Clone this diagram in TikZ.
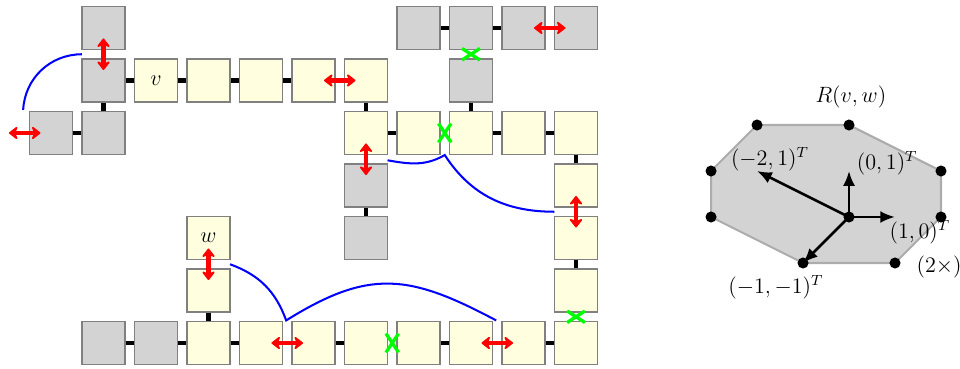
\documentclass[tikz,border=0pt]{standalone}
\usetikzlibrary{arrows.meta}
\definecolor{cellgray}{RGB}{211,211,211}
\definecolor{celly}{RGB}{255,255,224}
\begin{document}
\begin{tikzpicture}[
        cell/.style = {draw = gray, line width = 0.9pt, minimum size = 0.82cm, inner sep = 0pt, font = \large},
        graycell/.style = {cell, fill = cellgray},
        yellowcell/.style = {cell, fill = celly},
        link/.style = {line width = 2.2pt},
        flip/.style = {red, line width = 2.2pt, {Stealth[round, length = 5.5pt, width = 8.5pt]}-{Stealth[round, length = 5.5pt, width = 8.5pt]}},
        cut/.style = {green, line width = 1.8pt},
        route/.style = {blue, line width = 1.1pt},
        dot/.style = {circle, fill = black, inner sep = 0pt, minimum size = 6pt},
        vec/.style = {line width = 1.4pt, -{Latex[length = 8pt, width = 6.5pt]}}
    ]
    \useasboundingbox (-0.971, -6.495) rectangle (17.314, 0.533);

    % cells
    \foreach \i/\j in {1/0, 7/0, 8/0, 9/0, 10/0, 1/1, 8/1, 0/2, 1/2, 6/3, 6/4, 1/6, 2/6}
        \node [graycell] (c\i-\j) at (\i, -\j) {};
    \foreach \i/\j in {3/1, 4/1, 5/1, 6/1, 6/2, 7/2, 8/2, 9/2, 10/2, 10/3, 10/4, 3/5, 10/5,
                       3/6, 4/6, 5/6, 6/6, 7/6, 8/6, 9/6, 10/6}
        \node [yellowcell] (c\i-\j) at (\i, -\j) {};
    \node [yellowcell] (c2-1) at (2, -1) {$v$};
    \node [yellowcell] (c3-4) at (3, -4) {$w$};

    % links
    \foreach \a/\b in {c7-0/c8-0, c8-0/c9-0,
                       c1-0/c1-1, c1-1/c1-2, c8-1/c8-2, c6-1/c6-2, c10-2/c10-3, c6-3/c6-4, c10-4/c10-5, c3-5/c3-6,
                       c1-1/c2-1, c2-1/c3-1, c3-1/c4-1, c4-1/c5-1,
                       c0-2/c1-2, c6-2/c7-2, c8-2/c9-2, c9-2/c10-2,
                       c1-6/c2-6, c2-6/c3-6, c3-6/c4-6, c5-6/c6-6, c7-6/c8-6, c9-6/c10-6}
        \draw [link] (\a) -- (\b);

    % flips
    \foreach \x/\y/\dx/\dy in {1/-0.5/0/0.3, -0.5/-2/0.3/0, 5.5/-1/0.3/0, 9.5/0/0.3/0, 6/-2.5/0/0.3,
                               10/-3.5/0/0.3, 3/-4.5/0/0.3, 4.5/-6/0.3/0, 8.5/-6/0.3/0}
        \draw [flip] (\x-\dx, \y-\dy) -- (\x+\dx, \y+\dy);

    % cuts
    \foreach \x/\y/\dx/\dy in {8/-0.5/0.17/0.11, 7.5/-2/0.12/0.18, 6.5/-6/0.12/0.18, 10/-5.5/0.17/0.11}
        \draw [cut] (\x-\dx, \y-\dy) -- (\x+\dx, \y+\dy) (\x-\dx, \y+\dy) -- (\x+\dx, \y-\dy);

    % routes
    \draw [route] (0.59, -0.5) to [out = 180, in = 87] (-0.53, -1.56);
    \draw [route] (6.41, -2.52) to [out = -10, in = 210] (7.5, -2.42) to [out = -57, in = 180] (9.59, -3.5);
    \draw [route] (3.41, -4.5) to [out = -20, in = 110] (4.48, -5.57) to [out = 32, in = 152, looseness = 1.2] (8.48, -5.57);

    % R(v,w)
    \begin{scope}[shift = {(15.2cm, -3.6cm)}, x = 0.876cm, y = 0.876cm]
        \filldraw [fill = cellgray, draw = gray!65, line width = 1.1pt]
            (-2, 2) -- (0, 2) -- (2, 1) -- (2, 0) -- (1, -1) -- (-1, -1) -- (-3, 0) -- (-3, 1) -- cycle;
        \foreach \p [count = \k] in {(-2, 2), (0, 2), (2, 1), (2, 0), (1, -1), (-1, -1), (-3, 0), (-3, 1)}
            \node [dot] (p\k) at \p {};
        \node [dot] (o) at (0, 0) {};
        \draw [vec] (o.center) -- (-2, 1);
        \draw [vec] (o.center) -- (0, 1);
        \draw [vec] (o.center) -- (1, 0);
        \draw [vec] (o.center) -- (p6.center);
        \node [font = \large] (lr) at (0.04, 2.6) {$R(v,w)$};
        \node [font = \large] (la) at (-1.72, 1.26) {$(-2,1)^T$};
        \node [font = \large] (lb) at (0.83, 1.17) {$(0,1)^T$};
        \node [font = \large] (lc) at (1.54, -0.33) {$(1,0)^T$};
        \node [font = \large] (ld) at (1.96, -1.09) {$(2\times)$};
        \node [font = \large] (le) at (-1.59, -1.52) {$(-1,-1)^T$};
    \end{scope}
\end{tikzpicture}
\end{document}
